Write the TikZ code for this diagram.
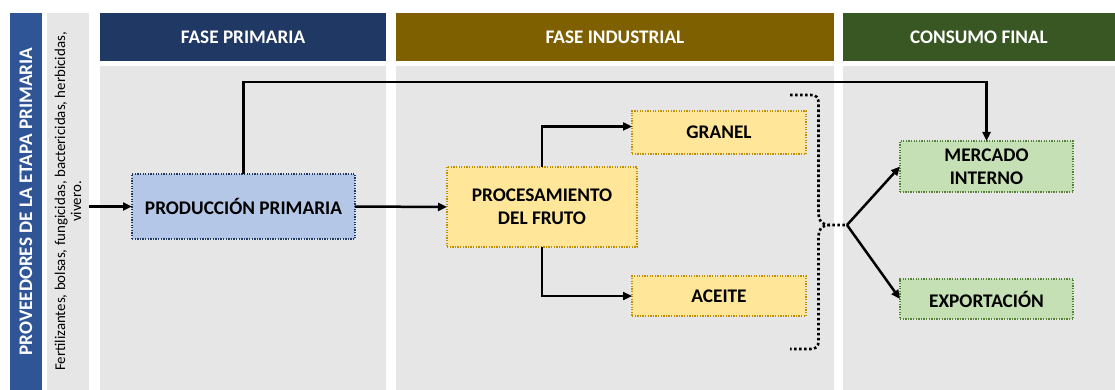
\documentclass[tikz,border=0pt]{standalone}
\usepackage{fontspec}
\setmainfont{Carlito}
\usetikzlibrary{arrows.meta,calc}
\definecolor{navy}{HTML}{203864}
\definecolor{bandblue}{HTML}{2F5597}
\definecolor{olive}{HTML}{7F6000}
\definecolor{dgreen}{HTML}{385723}
\definecolor{panelgrey}{HTML}{E7E6E6}
\definecolor{pblue}{HTML}{B4C7E7}
\definecolor{pyellow}{HTML}{FFE699}
\definecolor{pgreen}{HTML}{C5E0B4}
\definecolor{byellow}{HTML}{BF9000}
\definecolor{bgreen}{HTML}{548235}
\begin{document}
\begin{tikzpicture}[x=1pt,y=-1pt,
  head/.style={inner sep=0pt, outer sep=0pt, text=white, font=\fontsize{19.2}{22}\selectfont\bfseries},
  panel/.style={fill=panelgrey, inner sep=0pt, outer sep=0pt},
  box/.style={inner sep=0pt, outer sep=0pt, line width=1.3pt, dash pattern=on 1.3pt off 1.3pt, align=center, font=\fontsize{19.3}{23}\selectfont\bfseries},
  conn/.style={line width=2.5pt, -{Triangle[length=9pt,width=8pt]}},
  brace/.style={line width=2.6pt, dash pattern=on 2.6pt off 2.4pt}
]
\useasboundingbox (0,0) rectangle (1115,390);
% left bands
\node[fill=bandblue, inner sep=0pt, outer sep=0pt, rotate=90, minimum width=377pt, minimum height=32pt, text=white, font=\fontsize{19.2}{22}\selectfont\bfseries] (prov) at (26,201.5) {PROVEEDORES DE LA ETAPA PRIMARIA};
\node[fill=panelgrey, inner sep=0pt, outer sep=0pt, rotate=90, minimum width=377pt, minimum height=42pt, align=center, font=\fontsize{14.9}{16}\selectfont] (sup) at (68,201.5) {Fertilizantes, bolsas, fungicidas, bactericidas, herbicidas,\\vivero.};
% headers
\node[head, fill=navy, minimum width=286pt, minimum height=48pt] (h1) at (243,37) {FASE PRIMARIA};
\node[head, fill=olive, minimum width=438pt, minimum height=48pt] (h2) at (615,37) {FASE INDUSTRIAL};
\node[head, fill=dgreen, minimum width=272pt, minimum height=48pt] (h3) at (979,37) {CONSUMO FINAL};
% panels
\node[panel, minimum width=286pt, minimum height=324pt] (p1) at (243,228) {};
\node[panel, minimum width=438pt, minimum height=324pt] (p2) at (615,228) {};
\node[panel, minimum width=272pt, minimum height=324pt] (p3) at (979,228) {};
% boxes
\node[box, fill=pblue, draw=navy, minimum width=223pt, minimum height=65pt] (pp) at (243.5,206.5) {PRODUCCIÓN PRIMARIA};
\node[box, fill=pyellow, draw=byellow, minimum width=190pt, minimum height=80pt] (proc) at (542,207) {PROCESAMIENTO\\DEL FRUTO};
\node[box, fill=pyellow, draw=byellow, minimum width=174pt, minimum height=43pt] (gr) at (719,132.5) {GRANEL};
\node[box, fill=pyellow, draw=byellow, minimum width=174pt, minimum height=40pt] (ac) at (719,296) {ACEITE};
\node[box, fill=pgreen, draw=bgreen, minimum width=173pt, minimum height=51pt] (mi) at (986.5,166.5) {MERCADO\\INTERNO};
\node[box, fill=pgreen, draw=bgreen, minimum width=173pt, minimum height=40pt] (ex) at (986.5,299) {EXPORTACIÓN};
% connectors
\coordinate (top) at (0,82);
\coordinate (split) at (847,225);
\draw[conn] (sup.south |- pp.west) -- (pp.west);
\draw[conn] (pp.north) -- (pp.north |- top) -- (mi.north |- top) -- (mi.north);
\draw[conn] (pp.east) -- (proc.west);
\draw[conn] (proc.north) |- ($(gr.west)+(0,-6)$);
\draw[conn] (proc.south) |- (ac.west);
\draw[brace] (790,95) -- (811,95) .. controls (817,95) and (818.5,98) .. (818.5,104) -- (818.5,214) .. controls (818.5,221) and (822,225) .. (830,225) -- (split);
\draw[brace] (830,225) .. controls (822,225) and (818.5,229) .. (818.5,236) -- (818.5,341) .. controls (818.5,347) and (816,349) .. (810,349) -- (790,349);
\draw[conn] (split) -- (mi.west);
\draw[conn] (split) -- (ex.west);
\end{tikzpicture}
\end{document}
